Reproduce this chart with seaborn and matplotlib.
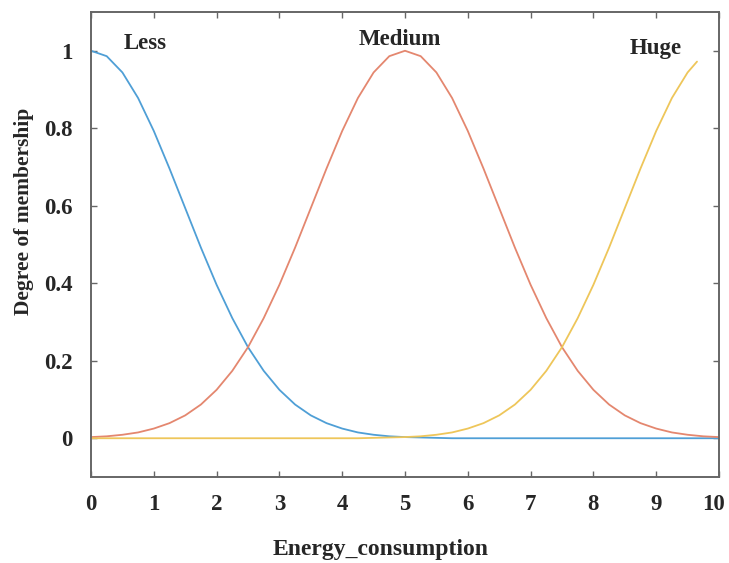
import matplotlib
matplotlib.use("Agg")
import matplotlib.pyplot as plt
import matplotlib.transforms as mtransforms
import seaborn as sns
import pandas as pd

# ---- data (membership values) ----
x_grid = [0.0, 0.25, 0.5, 0.75, 1.0, 1.25, 1.5, 1.75, 2.0, 2.25, 2.5, 2.75, 3.0, 3.25,
          3.5, 3.75, 4.0, 4.25, 4.5, 4.75, 5.0, 5.25, 5.5, 5.75, 6.0, 6.25, 6.5, 6.75,
          7.0, 7.25, 7.5, 7.75, 8.0, 8.25, 8.5, 8.75, 9.0, 9.25, 9.5, 9.75, 10.0]

less_vals = [1.0, 0.986, 0.944, 0.878, 0.793, 0.696, 0.594, 0.492, 0.396, 0.310,
             0.235, 0.174, 0.125, 0.087, 0.059, 0.039, 0.025, 0.015, 0.009, 0.005,
             0.003, 0.002, 0.001, 0.0, 0.0, 0.0, 0.0, 0.0, 0.0, 0.0, 0.0, 0.0, 0.0,
             0.0, 0.0, 0.0, 0.0, 0.0, 0.0, 0.0, 0.0]

medium_vals = [0.003, 0.005, 0.009, 0.015, 0.025, 0.039, 0.059, 0.087, 0.125, 0.174,
               0.235, 0.310, 0.396, 0.492, 0.594, 0.696, 0.793, 0.878, 0.944, 0.986,
               1.0, 0.986, 0.944, 0.878, 0.793, 0.696, 0.594, 0.492, 0.396, 0.310,
               0.235, 0.174, 0.125, 0.087, 0.059, 0.039, 0.025, 0.015, 0.009, 0.005,
               0.003]

huge_x = [0.0, 0.25, 0.5, 0.75, 1.0, 1.25, 1.5, 1.75, 2.0, 2.25, 2.5, 2.75, 3.0, 3.25,
          3.5, 3.75, 4.0, 4.25, 4.5, 4.75, 5.0, 5.25, 5.5, 5.75, 6.0, 6.25, 6.5, 6.75,
          7.0, 7.25, 7.5, 7.75, 8.0, 8.25, 8.5, 8.75, 9.0, 9.25, 9.5, 9.65]
huge_vals = [0.0, 0.0, 0.0, 0.0, 0.0, 0.0, 0.0, 0.0, 0.0, 0.0, 0.0, 0.0, 0.0, 0.0,
             0.0, 0.0, 0.0, 0.0, 0.001, 0.002, 0.003, 0.005, 0.009, 0.015, 0.025,
             0.039, 0.059, 0.087, 0.125, 0.174, 0.235, 0.310, 0.396, 0.492, 0.594,
             0.696, 0.793, 0.878, 0.944, 0.972]

labels = ["Less", "Medium", "Huge"]
x_ticks = [0, 1, 2, 3, 4, 5, 6, 7, 8, 9, 10]
y_ticks = [0, 0.2, 0.4, 0.6, 0.8, 1]
y_tick_labels = ["0", "0.2", "0.4", "0.6", "0.8", "1"]

colors = {"Less": "#4f9fd6", "Medium": "#e4876f", "Huge": "#eec65a"}

df = pd.concat([
    pd.DataFrame({"x": x_grid, "y": less_vals, "mf": "Less"}),
    pd.DataFrame({"x": x_grid, "y": medium_vals, "mf": "Medium"}),
    pd.DataFrame({"x": huge_x, "y": huge_vals, "mf": "Huge"}),
])

sns.set_style("ticks")
plt.rcParams["font.family"] = ["Liberation Serif", "DejaVu Serif"]

W, H = 729, 563
fig = plt.figure(figsize=(W / 100, H / 100), dpi=100)
ax = fig.add_axes([91 / W, 1 - 477 / H, 628 / W, 465 / H])

sns.lineplot(data=df, x="x", y="y", hue="mf", hue_order=labels, palette=colors,
             linewidth=1.3, legend=False, ax=ax, sort=False)

ax.set_xlim(0, 10)
ax.set_ylim(-0.1, 1.1)
ax.set_xticks(x_ticks)
ax.set_xticklabels([str(t) for t in x_ticks])
ax.set_yticks(y_ticks)
ax.set_yticklabels(y_tick_labels)
ax.set_xlabel("")
ax.set_ylabel("")

for sp in ax.spines.values():
    sp.set_visible(True)
    sp.set_color("#666666")
    sp.set_linewidth(1.4)

ax.tick_params(axis="both", direction="in", length=4, width=1, color="#666666",
               top=True, right=True, labelsize=16.5)
ax.tick_params(axis="x", pad=12)
ax.tick_params(axis="y", pad=13)
for lab in ax.get_xticklabels() + ax.get_yticklabels():
    lab.set_fontweight("bold")

# keep the last x tick label inside the canvas, like the reference
last = ax.get_xticklabels()[-1]
last.set_transform(last.get_transform() +
                   mtransforms.ScaledTranslation(-6 / 100, 0, fig.dpi_scale_trans))

fig.text(381 / W, 1 - 550 / H, "Energy_consumption", ha="center", va="center",
         fontsize=17, fontweight="bold")
fig.text(24 / W, 1 - 211 / H, "Degree of membership", ha="center", va="center",
         rotation=90, fontsize=15.5, fontweight="bold")

ax.text(0.86, 1.018, "Less", ha="center", va="center", fontsize=16.5, fontweight="bold")
ax.text(4.92, 1.03, "Medium", ha="center", va="center", fontsize=16.5, fontweight="bold")
ax.text(9.0, 1.005, "Huge", ha="center", va="center", fontsize=16.5, fontweight="bold")

fig.savefig("out.png", dpi=100, facecolor="white")
